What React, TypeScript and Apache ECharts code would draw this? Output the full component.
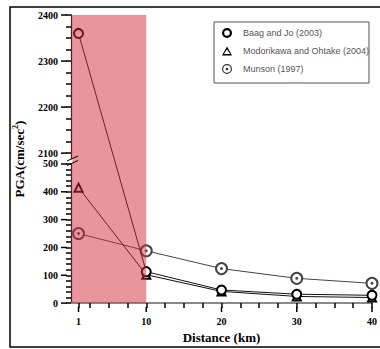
import React, { useEffect, useRef } from "react";
import * as echarts from "echarts";

// ---- data (real values) ----
const distances = [1, 10, 20, 30, 40];
const baagJo = [2360, 113, 47, 32, 28];
const modorikawa = [415, 102, 42, 24, 20];
const munson = [250, 188, 124, 89, 71];

const xTickValues = [1, 10, 20, 30, 40];
const xMinorTicks = [2.5, 5, 7.5, 12.5, 15, 17.5, 22.5, 25, 27.5, 32.5, 35, 37.5];
const yTicksLow = [0, 100, 200, 300, 400, 500];
const yTicksHigh = [2100, 2200, 2300, 2400];
const yMinorLow = [20, 40, 60, 80, 120, 140, 160, 180, 220, 240, 260, 280, 320, 340, 360, 380, 420, 440, 460, 480];
const yMinorHigh = [2125, 2150, 2175, 2225, 2250, 2275, 2325, 2350, 2375];
const shadedRange = [0, 10];

// ---- broken axis transform ----
const BREAK_LOW = 500;
const BREAK_HIGH = 2100;
const TOP_VALUE = 2400;
const GAP = 39;
const K = 496.5 / 300;
const toDisplay = (v: number) => (v <= BREAK_LOW ? v : BREAK_LOW + GAP + (v - BREAK_HIGH) * K);
const fromDisplay = (d: number) => (d <= BREAK_LOW + 0.5 ? d : BREAK_HIGH + (d - BREAK_LOW - GAP) / K);
const Y_MAX = toDisplay(TOP_VALUE);

const ringDotPath =
  "path://M0 50 A50 50 0 1 1 100 50 A50 50 0 1 1 0 50 Z M12 50 A38 38 0 1 0 88 50 A38 38 0 1 0 12 50 Z M37 50 A13 13 0 1 1 63 50 A13 13 0 1 1 37 50 Z";
const ringPath =
  "path://M0 50 A50 50 0 1 1 100 50 A50 50 0 1 1 0 50 Z M22 50 A28 28 0 1 0 78 50 A28 28 0 1 0 22 50 Z";
const triPath = "path://M50 0 L100 90 L0 90 Z M50 30 L19 76 L81 76 Z";

const serif = "'Liberation Serif', 'Times New Roman', serif";
const sans = "'Liberation Sans', Arial, sans-serif";

export default function App() {
  const ref = useRef<HTMLDivElement>(null);
  useEffect(() => {
    if (!ref.current) return;
    const chart = echarts.init(ref.current, undefined, { renderer: "svg" });
    const pts = (arr: number[]) => distances.map((x, i) => [x, toDisplay(arr[i])]);
    const majorY = [...yTicksLow, ...yTicksHigh].map(toDisplay);
    const allY = [...yTicksLow, ...yTicksHigh, ...yMinorLow, ...yMinorHigh].map(toDisplay).sort((a, b) => a - b);
    const allX = [...xTickValues, ...xMinorTicks].sort((a, b) => a - b);
    const axisLabelStyle = { fontFamily: serif, fontWeight: "bold" as const, fontSize: 10, color: "#000" };

    chart.setOption({
      animation: false,
      backgroundColor: "#fff",
      grid: { left: 71, right: 5, top: 15, bottom: 42 },
      xAxis: [
        {
          type: "value",
          min: 0,
          max: 40,
          position: "bottom",
          name: "Distance (km)",
          nameLocation: "middle",
          nameGap: 27,
          nameTextStyle: { fontFamily: serif, fontWeight: "bold", fontSize: 13, color: "#000", verticalAlign: "top" },
          axisLine: { show: true, lineStyle: { color: "#000", width: 1.2 } },
          axisTick: { show: true, customValues: allX, length: 5, lineStyle: { color: "#000", width: 1.5 } },
          axisLabel: { show: true, customValues: xTickValues, margin: 13, ...axisLabelStyle },
          splitLine: { show: false },
        },
        {
          type: "value",
          min: 0,
          max: 40,
          position: "top",
          axisLine: { show: true, lineStyle: { color: "#8a8a8a", width: 2 } },
          axisTick: { show: false },
          axisLabel: { show: false },
          splitLine: { show: false },
        },
      ],
      yAxis: [
        {
          type: "value",
          min: 0,
          max: Y_MAX,
          position: "left",
          name: "{n|PGA(cm/sec}{s|2}{n|)}",
          nameLocation: "middle",
          nameGap: 38,
          nameRotate: 90,
          nameTextStyle: {
            rich: {
              n: { fontFamily: serif, fontWeight: "bold", fontSize: 13, color: "#000", lineHeight: 16 },
              s: { fontFamily: serif, fontWeight: "bold", fontSize: 8, color: "#000", lineHeight: 16, padding: [0, 0, 8, 0] },
            },
          },
          axisLine: { show: true, lineStyle: { color: "#000", width: 1.2 } },
          axisTick: { show: true, customValues: allY, length: 5, lineStyle: { color: "#000", width: 1.5 } },
          axisLabel: {
            show: true,
            customValues: majorY,
            margin: 13,
            formatter: (v: number) => String(Math.round(fromDisplay(v))),
            ...axisLabelStyle,
          },
          splitLine: { show: false },
        },
        {
          type: "value",
          min: 0,
          max: Y_MAX,
          position: "right",
          axisLine: { show: true, lineStyle: { color: "#000", width: 1 } },
          axisTick: { show: false },
          axisLabel: { show: false },
          splitLine: { show: false },
        },
      ],
      legend: {
        orient: "vertical",
        left: 222,
        top: 28,
        padding: 0,
        itemWidth: 10,
        itemHeight: 10,
        itemGap: 8.5,
        textStyle: { fontFamily: sans, fontSize: 9, color: "#555", padding: [0, 0, 0, 6] },
        data: [
          { name: "Baag and Jo (2003)", icon: ringPath, itemStyle: { color: "#000", borderWidth: 0 } },
          { name: "Modorikawa and Ohtake (2004)", icon: triPath, itemStyle: { color: "#000", borderWidth: 0 } },
          { name: "Munson (1997)", icon: ringDotPath, itemStyle: { color: "#333", borderWidth: 0 } },
        ],
      },
      series: [
        {
          name: "x major tick extension",
          type: "custom",
          silent: true,
          clip: false,
          data: xTickValues.map((v) => [v, 0]),
          renderItem: (_p: any, api: any) => {
            const p = api.coord([api.value(0), 0]);
            return {
              type: "rect",
              shape: { x: p[0] - 0.75, y: p[1] + 4, width: 1.5, height: 5 },
              style: { fill: "#000" },
            };
          },
        },
        {
          name: "y major tick extension",
          type: "custom",
          silent: true,
          clip: false,
          data: majorY.map((d) => [0, d]),
          renderItem: (_p: any, api: any) => {
            const p = api.coord([0, api.value(1)]);
            return {
              type: "rect",
              shape: { x: p[0] - 10, y: p[1] - 0.75, width: 6, height: 1.5 },
              style: { fill: "#000" },
            };
          },
        },
        {
          name: "Munson (1997)",
          type: "line",
          data: pts(munson),
          symbol: "emptyCircle",
          symbolSize: 11,
          lineStyle: { color: "#444", width: 1 },
          itemStyle: { color: "#444", borderColor: "#444", borderWidth: 1 },
          z: 3,
        },
        {
          name: "Munson dots",
          type: "scatter",
          data: pts(munson),
          symbol: "circle",
          symbolSize: 3,
          itemStyle: { color: "#222" },
          z: 4,
        },
        {
          name: "Modorikawa and Ohtake (2004)",
          type: "line",
          data: pts(modorikawa),
          symbol: "emptyTriangle",
          symbolSize: 8,
          lineStyle: { color: "#111", width: 1 },
          itemStyle: { color: "#000", borderColor: "#000", borderWidth: 1.8 },
          z: 5,
        },
        {
          name: "Baag and Jo (2003)",
          type: "line",
          data: pts(baagJo),
          symbol: "emptyCircle",
          symbolSize: 9,
          lineStyle: { color: "#111", width: 1 },
          itemStyle: { color: "#000", borderColor: "#000", borderWidth: 2.2 },
          z: 6,
        },
        {
          name: "shade",
          type: "custom",
          silent: true,
          z: 20,
          data: [shadedRange],
          renderItem: (_params: any, api: any) => {
            const p0 = api.coord([api.value(0), Y_MAX]);
            const p1 = api.coord([api.value(1), 0]);
            return {
              type: "rect",
              shape: { x: p0[0], y: p0[1], width: p1[0] - p0[0], height: p1[1] - p0[1] },
              style: { fill: "rgba(209,45,55,0.5)" },
            };
          },
        },
      ],
      graphic: [
        {
          type: "polyline",
          shape: { points: [[384, 7], [10, 7], [10, 347], [384, 347]] },
          style: { stroke: "#000", lineWidth: 1.5, fill: "none" },
          silent: true,
        },
        {
          type: "rect",
          shape: { x: 214, y: 22, width: 155, height: 61 },
          style: { stroke: "#555", lineWidth: 1, fill: "none" },
          silent: true,
        },
        {
          type: "rect",
          shape: { x: 69, y: 159, width: 3.5, height: 4 },
          style: { fill: "#fff" },
          silent: true,
          z: 30,
        },
        {
          type: "line",
          shape: { x1: 67, y1: 161, x2: 78, y2: 156 },
          style: { stroke: "#000", lineWidth: 1 },
          silent: true,
          z: 31,
        },
        {
          type: "line",
          shape: { x1: 67, y1: 165.5, x2: 78, y2: 160.5 },
          style: { stroke: "#000", lineWidth: 1 },
          silent: true,
          z: 31,
        },
      ],
    });
    return () => chart.dispose();
  }, []);
  return <div ref={ref} style={{ position: "absolute", left: 0, top: 0, width: 380, height: 349 }} />;
}
